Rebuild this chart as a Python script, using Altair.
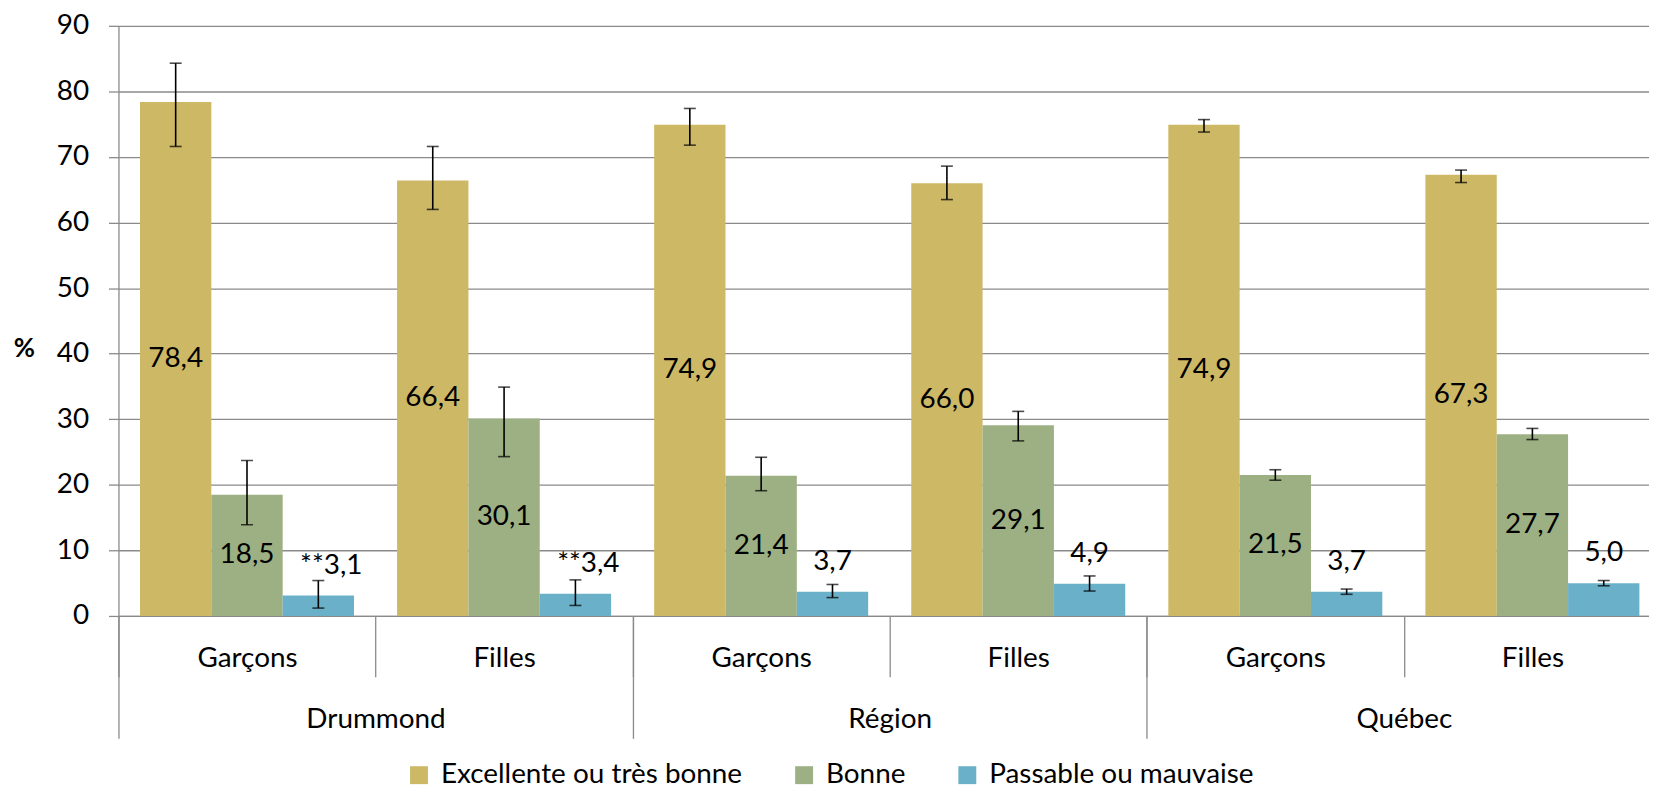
import altair as alt
import pandas as pd

# ---- data ----
regions = ["Drummond", "Drummond", "Région", "Région", "Québec", "Québec"]
sexes = ["Garçons", "Filles", "Garçons", "Filles", "Garçons", "Filles"]
series = ["Excellente ou très bonne", "Bonne", "Passable ou mauvaise"]
colors = ["#CDB866", "#9DB083", "#6BB0C9"]

excellent = [78.4, 66.4, 74.9, 66.0, 74.9, 67.3]
excellent_lo = [71.6, 62.0, 71.8, 63.5, 73.8, 66.1]
excellent_hi = [84.3, 71.6, 77.4, 68.6, 75.7, 68.0]

bonne = [18.5, 30.1, 21.4, 29.1, 21.5, 27.7]
bonne_lo = [13.9, 24.3, 19.1, 26.7, 20.7, 26.9]
bonne_hi = [23.7, 34.9, 24.2, 31.2, 22.3, 28.6]

passable = [3.1, 3.4, 3.7, 4.9, 3.7, 5.0]
passable_lo = [1.2, 1.6, 2.8, 3.8, 3.3, 4.6]
passable_hi = [5.4, 5.5, 4.8, 6.1, 4.1, 5.4]
passable_prefix = ["**", "**", "", "", "", ""]

region_order = ["Drummond", "Région", "Québec"]

# ---- long table ----
rows = []
for s, vals, los, his, prefs, pos in [
    (series[0], excellent, excellent_lo, excellent_hi, [""] * 6, "center"),
    (series[1], bonne, bonne_lo, bonne_hi, [""] * 6, "center"),
    (series[2], passable, passable_lo, passable_hi, passable_prefix, "above"),
]:
    for i in range(6):
        rows.append({
            "region": regions[i],
            "sexe": sexes[i],
            "cat": regions[i] + "|" + sexes[i],
            "series": s,
            "value": vals[i],
            "lo": los[i],
            "hi": his[i],
            "label": prefs[i] + f"{vals[i]:.1f}".replace(".", ","),
            "pos": pos,
            "star": 1 if prefs[i] else 0,
        })
df = pd.DataFrame(rows)
cat_order = [r + "|" + s for r, s in zip(regions, sexes)]

FONT = "Lato"
FS = 28
GRAY = "#8a8a8a"

X = alt.X(
    "cat:N",
    sort=cat_order,
    scale=alt.Scale(paddingInner=0, paddingOuter=0),
    axis=alt.Axis(
        title=None,
        labelExpr="split(datum.label, '|')[1]",
        labelAngle=0,
        tickBand="extent",
        tickSize=61,
        tickColor=GRAY,
        tickWidth=1.3,
        domainColor=GRAY,
        domainWidth=1.3,
        labelBaseline="middle",
        labelPadding=-18,
        labelFontSize=FS,
        labelFont=FONT,
        labelColor="black",
        grid=False,
    ),
)
XO = alt.XOffset(
    "series:N", sort=series, scale=alt.Scale(paddingOuter=0.302, paddingInner=0)
)
YSCALE = alt.Scale(domain=[0, 90], nice=False)

base = alt.Chart(df)

bars = base.mark_bar().encode(
    x=X,
    xOffset=XO,
    y=alt.Y(
        "value:Q",
        scale=YSCALE,
        axis=alt.Axis(
            values=list(range(0, 91, 10)),
            tickSize=10,
            tickColor=GRAY,
            tickWidth=1.3,
            domainColor=GRAY,
            domainWidth=1.3,
            gridColor=GRAY,
            gridWidth=1.3,
            labelPadding=20,
            labelFontSize=FS,
            labelFont=FONT,
            labelColor="black",
            title="%",
            titleAngle=0,
            titleX=-95,
            titleY=324,
            titleAlign="center",
            titleBaseline="middle",
            titleFontSize=26,
            titleFontWeight="bold",
            titleFont=FONT,
            titleColor="black",
        ),
    ),
    color=alt.Color(
        "series:N",
        sort=series,
        scale=alt.Scale(domain=series, range=colors),
        legend=alt.Legend(
            orient="none",
            legendX=288,
            legendY=739,
            direction="horizontal",
            columns=3,
            title=None,
            symbolType="square",
            symbolSize=324,
            symbolStrokeWidth=0,
            labelFontSize=FS,
            labelFont=FONT,
            labelColor="black",
            labelOffset=8,
            columnPadding=48,
            labelLimit=500,
        ),
    ),
)

err_rule = base.mark_rule(color="black", strokeWidth=1.6).encode(
    x=X, xOffset=XO, y=alt.Y("lo:Q", scale=YSCALE, title="%"), y2="hi:Q"
)
cap_lo = base.mark_tick(color="black", size=12, thickness=1.6).encode(
    x=X, xOffset=XO, y=alt.Y("lo:Q", scale=YSCALE, title="%")
)
cap_hi = base.mark_tick(color="black", size=12, thickness=1.6).encode(
    x=X, xOffset=XO, y=alt.Y("hi:Q", scale=YSCALE, title="%")
)

lab_center = (
    base.transform_filter("datum.pos == 'center'")
    .transform_calculate(mid="datum.value / 2")
    .mark_text(font=FONT, fontSize=FS, color="black", baseline="middle")
    .encode(x=X, xOffset=XO, y=alt.Y("mid:Q", scale=YSCALE, title="%"), text="label:N")
)
lab_above = (
    base.transform_filter("datum.pos == 'above' && datum.star == 0")
    .mark_text(font=FONT, fontSize=FS, color="black", baseline="middle", dy=-30)
    .encode(x=X, xOffset=XO, y=alt.Y("value:Q", scale=YSCALE, title="%"), text="label:N")
)
lab_star = (
    base.transform_filter("datum.pos == 'above' && datum.star == 1")
    .mark_text(font=FONT, fontSize=FS, color="black", baseline="middle", dy=-30, dx=13)
    .encode(x=X, xOffset=XO, y=alt.Y("value:Q", scale=YSCALE, title="%"), text="label:N")
)

main = alt.layer(bars, err_rule, cap_lo, cap_hi, lab_center, lab_above, lab_star)

region_layer = (
    alt.Chart(pd.DataFrame({"region": region_order}))
    .mark_rule(opacity=0)
    .encode(
        x=alt.X(
            "region:N",
            sort=region_order,
            scale=alt.Scale(paddingInner=0, paddingOuter=0),
            axis=alt.Axis(
                orient="bottom",
                title=None,
                labelAngle=0,
                tickBand="extent",
                tickSize=123,
                tickColor=GRAY,
                tickWidth=1.3,
                domain=False,
                grid=False,
                labelBaseline="middle",
                labelPadding=-19,
                labelFontSize=FS,
                labelFont=FONT,
                labelColor="black",
            ),
        )
    )
)

chart = (
    alt.layer(main, region_layer)
    .resolve_scale(x="independent")
    .properties(
        width=1550,
        height=593,
        padding={"left": 111, "top": 16, "right": -12, "bottom": 176},
        autosize=alt.AutoSizeParams(type="none"),
    )
    .configure(font=FONT)
    .configure_view(stroke=None)
)

chart.save("out.html", embed_options={"renderer": "svg", "actions": False})
